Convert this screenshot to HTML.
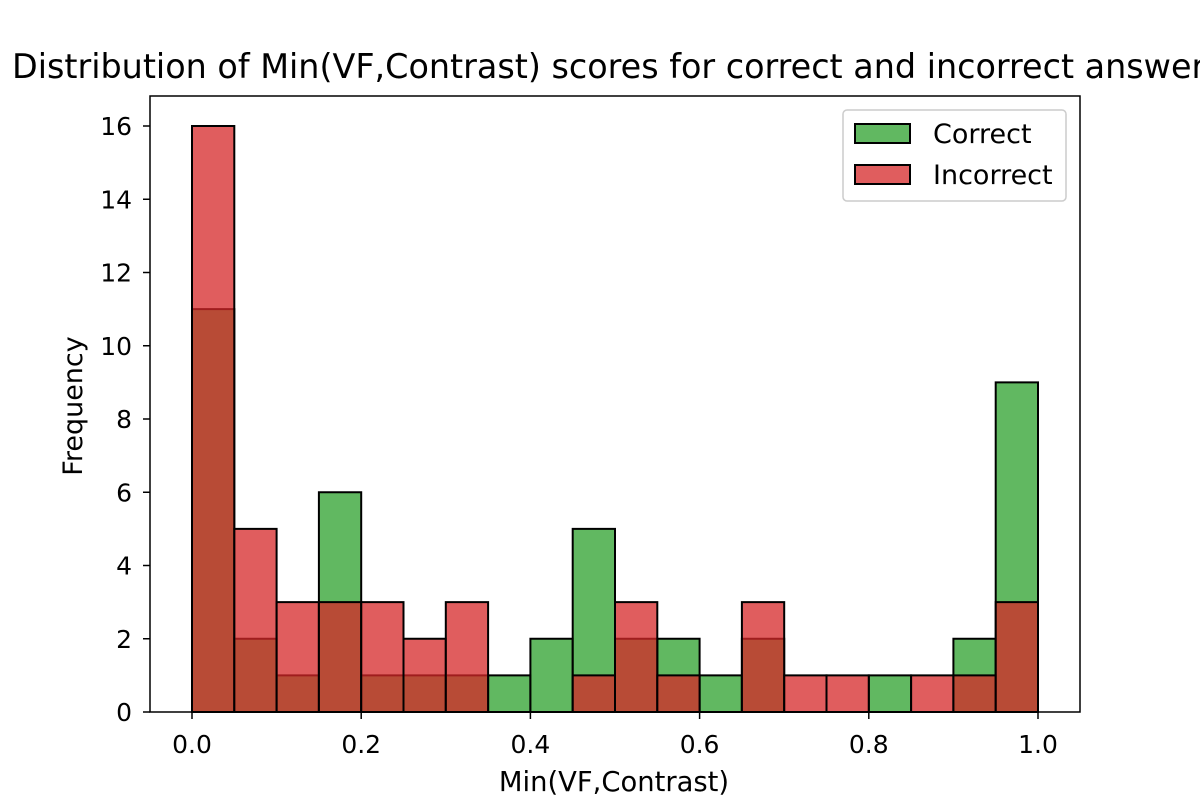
<!DOCTYPE html>
<html><head><meta charset="utf-8"><style>
body{margin:0;background:#fff;}
svg{display:block;font-family:"DejaVu Sans","Liberation Sans",sans-serif;}
</style></head><body>
<svg id="chart" width="1200" height="800">
<text x="12" y="78" font-size="33.4" text-anchor="start">Distribution of Min(VF,Contrast) scores for correct and incorrect answers</text>
<g id="bars"></g>
<g id="axes"></g>
<rect x="150" y="96" width="930" height="616" fill="none" stroke="#000" stroke-width="1.5"/>
<text x="614" y="791" font-size="27.4" text-anchor="middle">Min(VF,Contrast)</text>
<text transform="translate(82,406) rotate(-90)" font-size="27" text-anchor="middle">Frequency</text>
<g>
<rect x="843" y="110" width="223" height="91" rx="4" fill="#fff" fill-opacity="0.8" stroke="#ccc" stroke-width="1.5"/>
<g>
<rect x="855" y="124" width="55" height="19" fill="#2ca02c" fill-opacity="0.75" stroke="#000" stroke-width="2"/>
<text x="933" y="143" font-size="27">Correct</text></g>
<g>
<rect x="855" y="165" width="55" height="19" fill="#d62728" fill-opacity="0.75" stroke="#000" stroke-width="2"/>
<text x="933" y="184" font-size="27">Incorrect</text></g>
</g>
</svg>
<script>
const binStarts=[0,0.05,0.1,0.15,0.2,0.25,0.3,0.35,0.4,0.45,0.5,0.55,0.6,0.65,0.7,0.75,0.8,0.85,0.9,0.95];
const correctCounts=[11,2,1,6,1,1,1,1,2,5,2,2,1,2,0,0,1,0,2,9];
const incorrectCounts=[16,5,3,3,3,2,3,0,0,1,3,1,0,3,1,1,0,1,1,3];
const xTicks=[0,0.2,0.4,0.6,0.8,1.0];
const yTicks=[0,2,4,6,8,10,12,14,16];
const binWidth=0.05;
const NS="http://www.w3.org/2000/svg";
const xs=v=>192+v*846;
const ys=v=>712-v*36.625;
const bars=document.getElementById('bars');
const axes=document.getElementById('axes');
function drawSeries(counts,color,name){
  counts.forEach((c,i)=>{
    if(c<=0)return;
    const r=document.createElementNS(NS,'rect');
    const x0=xs(binStarts[i]),x1=xs(binStarts[i]+binWidth);
    r.setAttribute('x',x0);r.setAttribute('width',x1-x0);
    r.setAttribute('y',ys(c));r.setAttribute('height',ys(0)-ys(c));
    r.setAttribute('fill',color);r.setAttribute('fill-opacity','0.75');
    r.setAttribute('stroke','#000');r.setAttribute('stroke-width','2');
    
    
    bars.appendChild(r);
  });
}
drawSeries(correctCounts,'#2ca02c','correct');
drawSeries(incorrectCounts,'#d62728','incorrect');
xTicks.forEach(t=>{
  const l=document.createElementNS(NS,'line');
  l.setAttribute('x1',xs(t));l.setAttribute('x2',xs(t));l.setAttribute('y1',712);l.setAttribute('y2',719);
  l.setAttribute('stroke','#000');l.setAttribute('stroke-width','1.5');
  
  
  axes.appendChild(l);
  const tx=document.createElementNS(NS,'text');
  tx.setAttribute('x',xs(t));tx.setAttribute('y',753);tx.setAttribute('font-size','25');tx.setAttribute('text-anchor','middle');
  tx.textContent=t.toFixed(1);
  
  
  axes.appendChild(tx);
});
yTicks.forEach(t=>{
  const l=document.createElementNS(NS,'line');
  l.setAttribute('x1',143);l.setAttribute('x2',150);l.setAttribute('y1',ys(t));l.setAttribute('y2',ys(t));
  l.setAttribute('stroke','#000');l.setAttribute('stroke-width','1.5');
  
  
  axes.appendChild(l);
  const tx=document.createElementNS(NS,'text');
  tx.setAttribute('x',132);tx.setAttribute('y',ys(t)+9);tx.setAttribute('font-size','25');tx.setAttribute('text-anchor','end');
  tx.textContent=t;
  
  
  axes.appendChild(tx);
});
</script>
</body></html>
